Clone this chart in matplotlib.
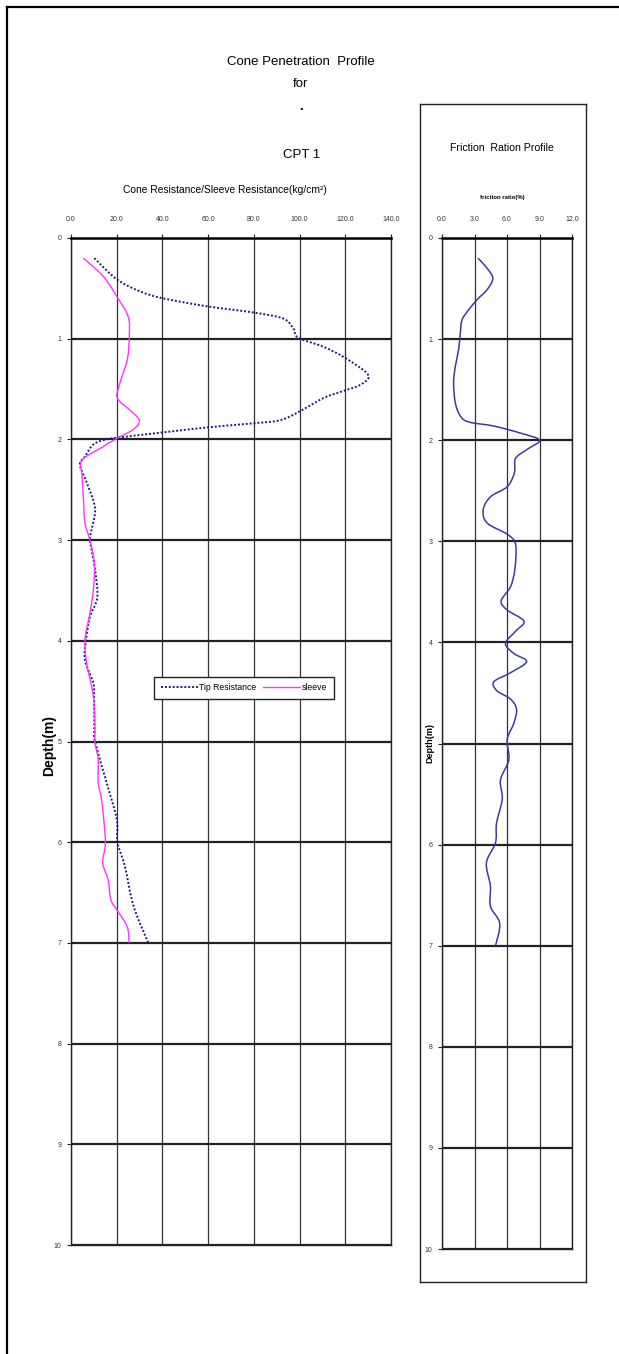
import matplotlib
matplotlib.use("Agg")
import matplotlib.pyplot as plt
from matplotlib.lines import Line2D
from matplotlib.path import Path
from matplotlib.patches import PathPatch
import numpy as np

plt.rcParams['font.family'] = ['Liberation Sans', 'DejaVu Sans']

# ---------------- data ----------------
tip_depth = [0.20, 0.41, 0.53, 0.60, 0.68, 0.74, 0.80, 0.90, 0.99, 1.08, 1.19, 1.36, 1.46,
             1.52, 1.59, 1.73, 1.81, 1.84, 1.88, 1.93, 1.97, 2.00, 2.05, 2.17, 2.25, 2.43,
             2.68, 2.90, 3.00, 3.29, 3.57, 3.76, 3.99, 4.19, 4.42, 4.55, 4.88, 5.00, 5.41,
             5.77, 6.00, 6.24, 6.63, 7.00]
tip_value = [10.2, 20.0, 30.2, 40.4, 60.0, 79.8, 92.9, 97.3, 99.4, 110.4, 119.9, 130.0, 126.4,
             119.0, 110.4, 99.4, 91.4, 79.8, 60.0, 40.4, 25.0, 15.6, 9.8, 6.1, 3.9, 6.9,
             10.5, 9.0, 8.3, 10.5, 11.5, 8.3, 6.6, 6.1, 9.8, 10.1, 10.2, 10.5, 15.6,
             20.0, 20.3, 23.6, 27.3, 33.8]

sleeve_depth = [0.20, 0.38, 0.58, 0.78, 0.98, 1.21, 1.44, 1.59, 1.71, 1.81, 1.90, 1.99, 2.09,
                2.19, 2.27, 2.33, 2.57, 2.83, 3.00, 3.23, 3.49, 3.76, 3.99, 4.23, 4.45, 4.62,
                4.88, 5.01, 5.18, 5.41, 5.58, 5.92, 6.05, 6.21, 6.38, 6.57, 6.67, 6.84, 7.00]
sleeve_value = [5.4, 14.1, 20.0, 25.0, 25.5, 24.6, 21.4, 20.3, 25.8, 29.9, 27.3, 20.0, 12.7,
                5.4, 4.2, 4.7, 5.4, 6.1, 8.3, 10.2, 9.8, 8.0, 6.1, 6.9, 9.0, 10.1,
                10.5, 10.5, 11.9, 11.9, 13.4, 14.9, 14.9, 13.9, 16.3, 17.4, 20.0, 24.6, 25.4]

fr_depth = [0.20, 0.30, 0.40, 0.51, 0.61, 0.71, 0.81, 0.94, 1.10, 1.27, 1.43, 1.63, 1.76,
            1.82, 1.86, 1.93, 2.00, 2.09, 2.18, 2.32, 2.46, 2.56, 2.69, 2.82, 2.93, 3.03,
            3.28, 3.45, 3.59, 3.68, 3.79, 3.89, 4.01, 4.11, 4.19, 4.30, 4.39, 4.48, 4.56,
            4.66, 4.80, 4.96, 5.16, 5.36, 5.55, 5.79, 5.98, 6.18, 6.41, 6.61, 6.78, 7.00]
fr_value = [3.33, 4.17, 4.69, 4.17, 3.24, 2.47, 1.85, 1.69, 1.54, 1.23, 1.07, 1.23, 1.69,
            2.47, 4.78, 7.25, 9.00, 7.87, 6.79, 6.69, 6.02, 4.47, 3.80, 4.17, 6.02, 6.79,
            6.72, 6.32, 5.46, 6.02, 7.56, 6.79, 5.86, 6.63, 7.81, 6.32, 4.78, 5.09, 6.32,
            6.88, 6.63, 6.02, 6.17, 5.40, 5.56, 5.03, 4.94, 4.10, 4.47, 4.47, 5.33, 4.94]

res_ticks = [0, 20, 40, 60, 80, 100, 120, 140]
fr_ticks = [0, 3, 6, 9, 12]
depth_ticks = list(range(0, 11))
# in the friction panel the "5" label is hidden behind the Depth(m) title
fr_depth_labels = [str(d) if d != 5 else '' for d in depth_ticks]

# ---------------- figure ----------------
W, H = 619, 1354
fig = plt.figure(figsize=(W / 100, H / 100), dpi=100)

def fx(px):
    return px / W

def fy(py):
    return 1 - py / H

def smooth_path(xs, ys):
    """Excel-style smoothed line: Bezier segments through the data points."""
    p = np.column_stack([xs, ys]).astype(float)
    n = len(p)
    verts = [p[0]]
    codes = [Path.MOVETO]
    for i in range(n - 1):
        p0 = p[i - 1] if i > 0 else p[i]
        p1 = p[i]
        p2 = p[i + 1]
        p3 = p[i + 2] if i + 2 < n else p[i + 1]
        c1 = p1 + (p2 - p0) / 6.0
        c2 = p2 - (p3 - p1) / 6.0
        verts += [c1, c2, p2]
        codes += [Path.CURVE4] * 3
    return Path(verts, codes)

# outer frame (left and top edges visible)
fig.add_artist(Line2D([fx(7), fx(7)], [fy(7), 0], color='black', lw=1.6, transform=fig.transFigure))
fig.add_artist(Line2D([fx(7), 1], [fy(7), fy(7)], color='black', lw=1.6, transform=fig.transFigure))
# right panel frame
rx0, rx1, ry0, ry1 = 420, 586, 104, 1282
for xs, ys in [([rx0, rx1], [ry0, ry0]), ([rx0, rx1], [ry1, ry1]),
               ([rx0, rx0], [ry0, ry1]), ([rx1, rx1], [ry0, ry1])]:
    fig.add_artist(Line2D([fx(x) for x in xs], [fy(y) for y in ys], color='#222222', lw=1.0,
                          transform=fig.transFigure))

# titles
fig.text(fx(301), fy(62), 'Cone Penetration  Profile', ha='center', va='center', fontsize=9.5)
fig.text(fx(301), fy(84), 'for', ha='center', va='center', fontsize=9.5)
fig.text(fx(301), fy(107), '.', ha='center', va='center', fontsize=9.5, fontweight='bold')
fig.text(fx(302), fy(155), 'CPT 1', ha='center', va='center', fontsize=9.5)
fig.text(fx(225), fy(190), 'Cone Resistance/Sleeve Resistance(kg/cm²)', ha='center', va='center', fontsize=7.4)
fig.text(fx(502), fy(148), 'Friction  Ration Profile', ha='center', va='center', fontsize=7.6)
fig.text(fx(502), fy(197), 'friction ratio(%)', ha='center', va='center', fontsize=4.3, fontweight='bold')
fig.text(fx(49), fy(745), 'Depth(m)', ha='center', va='center', rotation=90, fontsize=10,
         fontweight='bold')
fig.text(fx(430), fy(743), 'Depth(m)', ha='center', va='center', rotation=90, fontsize=6.5,
         fontweight='bold')

def style_axes(ax, xticks, xlabels, ylabels):
    ax.set_ylim(10, 0)
    ax.set_xlim(xticks[0], xticks[-1])
    ax.set_xticks(xticks)
    ax.set_xticklabels(xlabels)
    ax.set_yticks(depth_ticks)
    ax.set_yticklabels(ylabels)
    ax.xaxis.tick_top()
    ax.tick_params(axis='x', which='both', length=3, width=0.8, pad=8, labelsize=5,
                   labelcolor='#333333', color='#222222')
    ax.tick_params(axis='y', which='both', length=3, width=0.8, pad=4, labelsize=5,
                   labelcolor='#333333', color='#222222')
    for xt in xticks:
        ax.axvline(xt, color='#333333', lw=0.9, zorder=1)
    for d in depth_ticks:
        ax.axhline(d, color='#222222', lw=1.6, zorder=1)
    for s in ax.spines.values():
        s.set_color('#222222')
        s.set_linewidth(1.0)
    ax.spines['top'].set_linewidth(1.8)
    ax.spines['top'].set_color('black')

TIP_COLOR = '#1c1c80'
SLEEVE_COLOR = '#ff33ff'
FR_COLOR = '#3a3aa0'
TIP_STYLE = (0, (1, 1))

# left axes
ax1 = fig.add_axes([fx(71), fy(1245), (391 - 71) / W, (1245 - 238) / H])
style_axes(ax1, res_ticks, [f'{t:.1f}' for t in res_ticks], [str(d) for d in depth_ticks])
ax1.add_patch(PathPatch(smooth_path(tip_value, tip_depth), fill=False, edgecolor=TIP_COLOR,
                        lw=1.4, linestyle=TIP_STYLE, zorder=3))
ax1.add_patch(PathPatch(smooth_path(sleeve_value, sleeve_depth), fill=False,
                        edgecolor=SLEEVE_COLOR, lw=1.0, zorder=3))
handles = [Line2D([], [], color=TIP_COLOR, lw=1.4, linestyle=TIP_STYLE),
           Line2D([], [], color=SLEEVE_COLOR, lw=1.0)]
leg = ax1.legend(handles, ['Tip Resistance', 'sleeve'], loc='center',
                 bbox_to_anchor=(fx(244), fy(688)), bbox_transform=fig.transFigure,
                 ncol=2, fancybox=False, framealpha=1, edgecolor='#222222', fontsize=6.2,
                 handlelength=4.2, handletextpad=0.2, columnspacing=0.8, borderpad=0.8,
                 borderaxespad=0)
leg.get_frame().set_linewidth(1.0)

# right axes
ax2 = fig.add_axes([fx(442), fy(1249), (572 - 442) / W, (1249 - 238) / H])
style_axes(ax2, fr_ticks, [f'{t:.1f}' for t in fr_ticks], fr_depth_labels)
ax2.add_patch(PathPatch(smooth_path(fr_value, fr_depth), fill=False, edgecolor=FR_COLOR,
                        lw=1.1, zorder=3))

fig.savefig('out.png', dpi=100)
